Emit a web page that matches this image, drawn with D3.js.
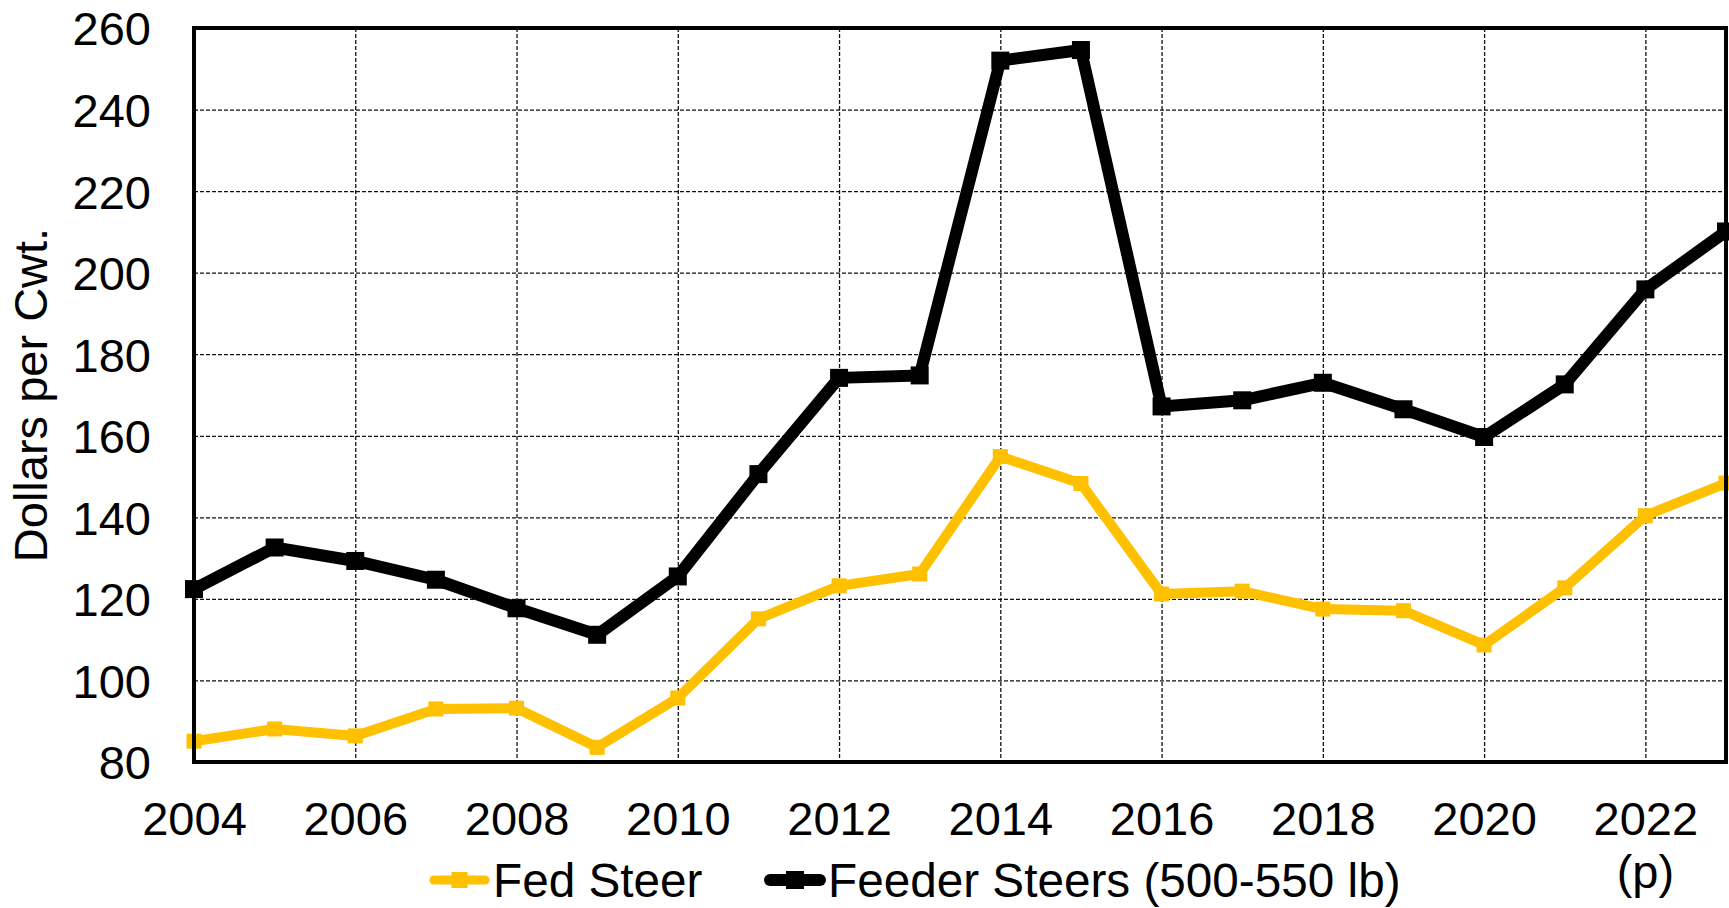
<!DOCTYPE html>
<html>
<head>
<meta charset="utf-8">
<script src="https://cdn.jsdelivr.net/npm/d3@7"></script>
<style>
  body { margin: 0; background: #fff; }
  text { font-family: "Liberation Sans", Arial, sans-serif; fill: #000; }
</style>
</head>
<body>
<div id="chart"></div>
<script>
var years = [2004, 2005, 2006, 2007, 2008, 2009, 2010, 2011, 2012, 2013,
             2014, 2015, 2016, 2017, 2018, 2019, 2020, 2021, 2022, 2023];
var feederSteers = [122.4, 132.6, 129.3, 124.7, 117.7, 111.2, 125.5, 150.6, 174.2, 174.8,
                    252.0, 254.6, 167.2, 168.7, 173.0, 166.5, 159.7, 172.6, 195.9, 210.1];
var fedSteer = [85.1, 88.1, 86.4, 93.0, 93.2, 83.6, 95.7, 115.1, 123.2, 126.1,
                154.9, 148.3, 121.2, 121.9, 117.5, 117.1, 108.7, 122.7, 140.4, 148.4];
var xTicks = [2004, 2006, 2008, 2010, 2012, 2014, 2016, 2018, 2020, 2022];
var yTicks = [80, 100, 120, 140, 160, 180, 200, 220, 240, 260];
var seriesNames = ["Fed Steer", "Feeder Steers (500-550 lb)"];

var width = 1729;
var height = 908;
var margin = {top: 28, left: 194, right: 3, bottom: 146};
var fs = 47;

var svg = d3.select("#chart")
  .append("svg")
  .attr("width", width)
  .attr("height", height);

var xScale = d3.scaleLinear()
  .domain([2004, 2023])
  .range([margin.left, width - margin.right]);

var yScale = d3.scaleLinear()
  .domain([80, 260])
  .range([height - margin.bottom, margin.top]);

var plotW = width - margin.right - margin.left;
var plotH = height - margin.bottom - margin.top;

// dashed grid
svg.append("g")
  .attr("transform", `translate(${margin.left},0)`)
  .call(d3.axisLeft(yScale).tickValues(yTicks.slice(1, -1)).tickSize(-plotW).tickFormat(""))
  .call(g => g.select(".domain").remove())
  .selectAll("line")
    .attr("stroke", "#111")
    .attr("stroke-width", 1.3)
    .attr("stroke-dasharray", "4,2");

svg.append("g")
  .attr("transform", `translate(0,${height - margin.bottom})`)
  .call(d3.axisBottom(xScale).tickValues(xTicks.slice(1)).tickSize(plotH).tickFormat(""))
  .call(g => g.select(".domain").remove())
  .selectAll("line")
    .attr("transform", `translate(0,${-plotH})`)
    .attr("stroke", "#111")
    .attr("stroke-width", 1.3)
    .attr("stroke-dasharray", "4,2");

// tick labels
var xAxis = svg.append("g")
  .attr("transform", `translate(0,${height - margin.bottom})`)
  .call(d3.axisBottom(xScale).tickValues(xTicks).tickSize(0).tickPadding(40).tickFormat(d3.format("d")));
xAxis.select(".domain").remove();
xAxis.selectAll("text").style("font-size", fs + "px").style("font-family", "Liberation Sans, Arial, sans-serif").attr("fill", "#000");

var yAxis = svg.append("g")
  .attr("transform", `translate(${margin.left},0)`)
  .call(d3.axisLeft(yScale).tickValues(yTicks).tickSize(0).tickPadding(43));
yAxis.select(".domain").remove();
yAxis.selectAll("text").style("font-size", fs + "px").style("font-family", "Liberation Sans, Arial, sans-serif").attr("fill", "#000").attr("dy", "0.36em");

svg.append("text")
  .attr("x", xScale(2022))
  .attr("y", 888)
  .attr("text-anchor", "middle")
  .style("font-size", fs + "px")
  .text("(p)");

svg.append("text")
  .attr("transform", `translate(47,${(margin.top + height - margin.bottom) / 2}) rotate(-90)`)
  .attr("text-anchor", "middle")
  .style("font-size", fs + "px")
  .text("Dollars per Cwt.");

// series
var line = d3.line()
  .x(function(d, i) { return xScale(years[i]); })
  .y(function(d) { return yScale(d); });

var series = [
  {name: seriesNames[1], values: feederSteers, color: "#000000", lw: 12, ms: 18},
  {name: seriesNames[0], values: fedSteer, color: "#FFC000", lw: 10, ms: 15}
];

series.forEach(function(s) {
  svg.append("path")
    .datum(s.values)
    .attr("d", line)
    .attr("fill", "none")
    .attr("stroke", s.color)
    .attr("stroke-width", s.lw)
    .attr("stroke-linejoin", "round");

  svg.selectAll(null)
    .data(s.values)
    .enter()
    .append("rect")
      .attr("x", function(d, i) { return xScale(years[i]) - s.ms / 2; })
      .attr("y", function(d) { return yScale(d) - s.ms / 2; })
      .attr("width", s.ms)
      .attr("height", s.ms)
      .attr("fill", s.color);
});

// frame
svg.append("rect")
  .attr("x", margin.left)
  .attr("y", margin.top)
  .attr("width", plotW)
  .attr("height", plotH)
  .attr("fill", "none")
  .attr("stroke", "#000")
  .attr("stroke-width", 4);

// legend
var legendItems = [
  {name: seriesNames[0], color: "#FFC000", x0: 434, x1: 485, tx: 493, lw: 9, ms: 16},
  {name: seriesNames[1], color: "#000000", x0: 770, x1: 820, tx: 828, lw: 12, ms: 18}
];
var ly = 880;
legendItems.forEach(function(l) {
  svg.append("line")
    .attr("x1", l.x0).attr("x2", l.x1)
    .attr("y1", ly).attr("y2", ly)
    .attr("stroke", l.color)
    .attr("stroke-width", l.lw)
    .attr("stroke-linecap", "round");
  svg.append("rect")
    .attr("x", (l.x0 + l.x1) / 2 - l.ms / 2)
    .attr("y", ly - l.ms / 2)
    .attr("width", l.ms)
    .attr("height", l.ms)
    .attr("fill", l.color);
  svg.append("text")
    .attr("x", l.tx)
    .attr("y", ly + 17)
    .style("font-size", "47.7px")
    .text(l.name);
});
</script>
</body>
</html>
